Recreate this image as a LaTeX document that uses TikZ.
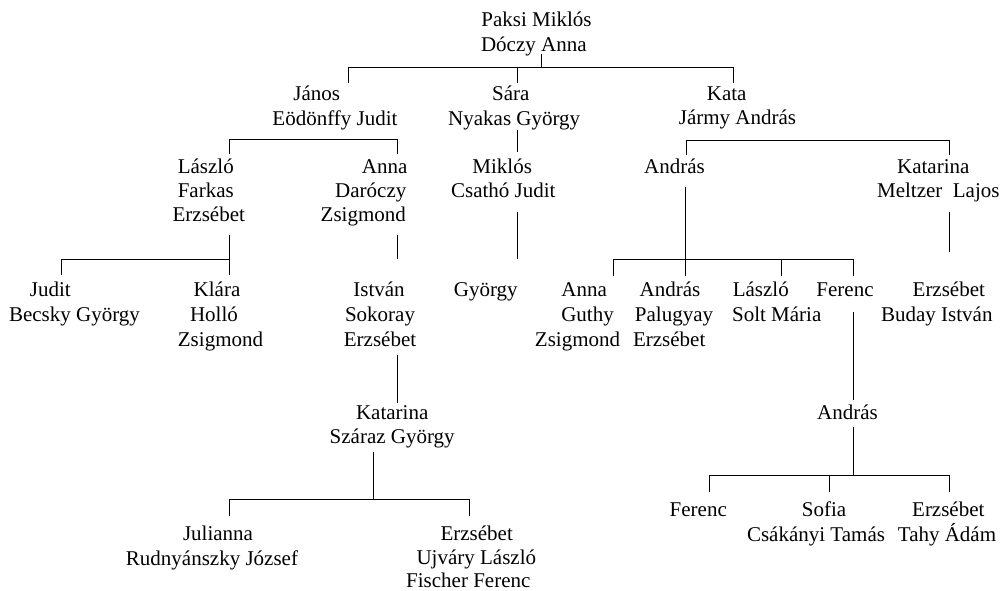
\documentclass[tikz,border=0pt]{standalone}
\usepackage{fontspec}
\setmainfont{Liberation Serif}
\begin{document}
\begin{tikzpicture}[x=1pt,y=-1pt,
  t/.style={anchor=base, inner sep=0pt, font=\fontsize{21pt}{24.5pt}\selectfont},
  link/.style={line width=0.9pt, black}]
\useasboundingbox (0,0) rectangle (1003,591);
% ---- people (one node per printed line) ----
\node[t] (root1) at (536.5,26.7) {Paksi Miklós};
\node[t] (root2) at (533.8,51.7) {Dóczy Anna};
\node[t] (jan1) at (316.7,100.7) {János};
\node[t] (jan2) at (335,125) {Eödönffy Judit};
\node[t] (sar1) at (510.8,100.7) {Sára};
\node[t] (sar2) at (514.2,125) {Nyakas György};
\node[t] (kat1) at (726.7,100.5) {Kata};
\node[t] (kat2) at (737.5,124.5) {Jármy András};
\node[t] (las1) at (205.8,173.3) {László};
\node[t] (las2) at (205.8,197.5) {Farkas};
\node[t] (las3) at (208.8,221.7) {Erzsébet};
\node[t] (ann1) at (384.7,173.3) {Anna};
\node[t] (ann2) at (370.8,197.5) {Daróczy};
\node[t] (ann3) at (363.3,221.7) {Zsigmond};
\node[t] (mik1) at (502.2,173.3) {Miklós};
\node[t] (mik2) at (503.3,197.5) {Csathó Judit};
\node[t] (and1) at (674.5,173.3) {András};
\node[t] (ktr1) at (933.3,173.3) {Katarina};
\node[t] (ktr2) at (938.3,197.5) {Meltzer\ \ Lajos};
\node[t] (jud1) at (50.3,296.5) {Judit};
\node[t] (jud2) at (74.5,321) {Becsky György};
\node[t] (kla1) at (217,296.5) {Klára};
\node[t] (kla2) at (214,321) {Holló};
\node[t] (kla3) at (220.5,346.5) {Zsigmond};
\node[t] (ist1) at (379,296.5) {István};
\node[t] (ist2) at (380,321) {Sokoray};
\node[t] (ist3) at (380,346.5) {Erzsébet};
\node[t] (gyo1) at (485.8,296.5) {György};
\node[t] (ang1) at (584.2,296.5) {Anna};
\node[t] (ang2) at (587.5,321) {Guthy};
\node[t] (ang3) at (577.5,346.5) {Zsigmond};
\node[t] (anp1) at (670,296.5) {András};
\node[t] (anp2) at (674,321) {Palugyay};
\node[t] (anp3) at (669.2,346.5) {Erzsébet};
\node[t] (lsm1) at (760.8,296.5) {László};
\node[t] (lsm2) at (776.7,321) {Solt Mária};
\node[t] (fer1) at (845,296.5) {Ferenc};
\node[t] (ebi1) at (948.8,296.5) {Erzsébet};
\node[t] (ebi2) at (936.8,321) {Buday István};
\node[t] (ksz1) at (392.2,419) {Katarina};
\node[t] (ksz2) at (392.2,443.3) {Száraz György};
\node[t] (anb1) at (847.5,419) {András};
\node[t] (jul1) at (218,540.5) {Julianna};
\node[t] (jul2) at (212,565) {Rudnyánszky József};
\node[t] (eul1) at (476.7,540.5) {Erzsébet};
\node[t] (eul2) at (476.3,564.5) {Ujváry László};
\node[t] (eul3) at (468.3,587) {Fischer Ferenc};
\node[t] (ferb) at (698.3,516) {Ferenc};
\node[t] (sof1) at (824,516) {Sofia};
\node[t] (sof2) at (816,541) {Csákányi Tamás};
\node[t] (eta1) at (948.3,516) {Erzsébet};
\node[t] (eta2) at (947,541) {Tahy Ádám};
% ---- connector points ----
% root family
\coordinate (r0) at (541.7,54);   \coordinate (r1) at (541.7,67.3);
\coordinate (rL) at (348.5,67.3); \coordinate (rR) at (733.3,67.3);
\coordinate (rJ) at (348.5,83.5); \coordinate (rS) at (517.3,83.5); \coordinate (rK) at (733.3,83.5);
% Sára
\coordinate (s0) at (517.3,130);  \coordinate (s1) at (517.3,152);
% János
\coordinate (jL) at (229,139.5);  \coordinate (jR) at (397.3,139.5);
\coordinate (jLd) at (229,153.5); \coordinate (jRd) at (397.3,153.5);
% Kata
\coordinate (kL) at (686,140);    \coordinate (kR) at (949.3,140);
\coordinate (kLd) at (686,155);   \coordinate (kRd) at (949.3,155);
% László
\coordinate (l0) at (229,235);    \coordinate (l1) at (229,275);
\coordinate (lL) at (61,259.3);   \coordinate (lM) at (229,259.3); \coordinate (lLd) at (61,275);
% Anna
\coordinate (a0) at (397.3,235);  \coordinate (a1) at (397.3,259.3);
% Miklós
\coordinate (m0) at (517.3,211.7); \coordinate (m1) at (517.3,259.3);
% András
\coordinate (n0) at (685.7,187.3); \coordinate (n1) at (685.7,276);
\coordinate (nL) at (613.3,259.3); \coordinate (nR) at (853.3,259.3);
\coordinate (nLd) at (613.3,276); \coordinate (nMd) at (781.7,276); \coordinate (nRd) at (853.3,276);
\coordinate (nM) at (781.7,259.3);
% Katarina
\coordinate (q0) at (949.3,211.7); \coordinate (q1) at (949.3,251.7);
% István
\coordinate (i0) at (397.3,355);  \coordinate (i1) at (397.3,402.7);
% Ferenc
\coordinate (f0) at (853.3,311.7); \coordinate (f1) at (853.3,400);
% Katarina Száraz
\coordinate (z0) at (373.3,451.7); \coordinate (z1) at (373.3,499.3);
\coordinate (zL) at (229,499.3);  \coordinate (zR) at (469.3,499.3);
\coordinate (zLd) at (229,516);   \coordinate (zRd) at (469.3,516);
% András (bottom)
\coordinate (b0) at (853.3,427.3); \coordinate (b1) at (853.3,475);
\coordinate (bL) at (709.3,475);  \coordinate (bM) at (829.3,475); \coordinate (bR) at (949.3,475);
\coordinate (bLd) at (709.3,492.3); \coordinate (bMd) at (829.3,492.3); \coordinate (bRd) at (949.3,492.3);
% ---- connectors ----
\draw[link] (r0) -- (r1);
\draw[link] (rJ) -- (rL) -- (rR) -- (rK);
\draw[link] (rS |- rL) -- (rS);
\draw[link] (s0) -- (s1);
\draw[link] (jLd) -- (jL) -- (jR) -- (jRd);
\draw[link] (kLd) -- (kL) -- (kR) -- (kRd);
\draw[link] (l0) -- (l1);
\draw[link] (lLd) -- (lL) -- (lM);
\draw[link] (a0) -- (a1);
\draw[link] (m0) -- (m1);
\draw[link] (n0) -- (n1);
\draw[link] (nLd) -- (nL) -- (nR) -- (nRd);
\draw[link] (nM) -- (nMd);
\draw[link] (q0) -- (q1);
\draw[link] (i0) -- (i1);
\draw[link] (f0) -- (f1);
\draw[link] (z0) -- (z1);
\draw[link] (zLd) -- (zL) -- (zR) -- (zRd);
\draw[link] (b0) -- (b1);
\draw[link] (bLd) -- (bL) -- (bR) -- (bRd);
\draw[link] (bM) -- (bMd);
\end{tikzpicture}
\end{document}
